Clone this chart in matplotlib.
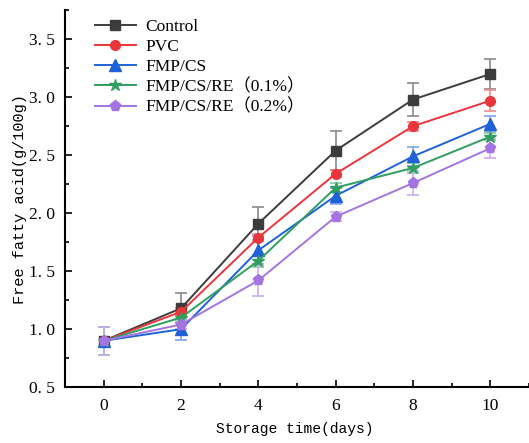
import numpy as np
import matplotlib.pyplot as plt
from matplotlib.ticker import MultipleLocator

# storage days
days = [0, 2, 4, 6, 8, 10]

labels = ['Control', 'PVC', 'FMP/CS', 'FMP/CS/RE\uff080.1%\uff09', 'FMP/CS/RE\uff080.2%\uff09']
control = [0.90, 1.18, 1.91, 2.54, 2.98, 3.20]
pvc = [0.90, 1.15, 1.79, 2.34, 2.75, 2.97]
fmp_cs = [0.90, 1.00, 1.68, 2.15, 2.49, 2.77]
re01 = [0.90, 1.10, 1.59, 2.22, 2.39, 2.66]
re02 = [0.90, 1.04, 1.42, 1.97, 2.26, 2.56]

err_control = [0.12, 0.13, 0.14, 0.17, 0.14, 0.13]
err_pvc = [0.12, 0.03, 0.03, 0.03, 0.04, 0.09]
err_fmp = [0.12, 0.09, 0.12, 0.07, 0.08, 0.07]
err_re01 = [0.12, 0.04, 0.05, 0.04, 0.04, 0.03]
err_re02 = [0.12, 0.04, 0.13, 0.04, 0.10, 0.08]

series = [control, pvc, fmp_cs, re01, re02]
errs = [err_control, err_pvc, err_fmp, err_re01, err_re02]
colors = ['#3c3c3c', '#e8363c', '#1f62d8', '#2f9e5e', '#a474e2']
ecolors = ['#8a8a8a', '#f08a8e', '#7fa6ea', '#86c9a2', '#c9acef']
markers = ['s', 'o', '^', '*', 'p']
msizes = [7, 7, 8, 9, 8]

fig = plt.figure(figsize=(5.29, 4.43), dpi=100)
ax = fig.add_axes([0.123, 0.126, 0.877, 0.851])

handles = []
for y, e, c, ec, m, ms, lab in zip(series, errs, colors, ecolors, markers, msizes, labels):
    eb = ax.errorbar(days, y, yerr=e, color=c, ecolor=ec, elinewidth=1.2, capsize=4,
                     capthick=1.2, marker=m, markersize=ms, lw=1.4, label=lab)
    handles.append(eb[0])

ax.set_xlim(-1, 11)
ax.set_ylim(0.5, 3.75)
ax.xaxis.set_major_locator(MultipleLocator(2))
ax.xaxis.set_minor_locator(MultipleLocator(1))
ax.yaxis.set_major_locator(MultipleLocator(0.5))
ax.yaxis.set_minor_locator(MultipleLocator(0.25))
ax.tick_params(which='both', direction='in', width=1.2)
ax.tick_params(which='major', length=5, labelsize=12.5, pad=8)
ax.tick_params(axis='y', which='major', pad=7)
ax.tick_params(which='minor', length=3)
ax.spines['top'].set_visible(False)
ax.spines['right'].set_visible(False)
ax.spines['left'].set_linewidth(1.5)
ax.spines['bottom'].set_linewidth(1.5)

ax.set_xticklabels([f'{t:g}' for t in ax.get_xticks()], family='Liberation Serif')
ax.set_yticklabels([f'{t:.1f}'.replace('.', '. ') for t in ax.get_yticks()], family='Liberation Serif')

ax.set_xlabel('Storage time(days)', family='Liberation Mono', fontsize=10.5)
ax.set_ylabel('Free fatty acid(g/100g)', family='Liberation Mono', fontsize=11)
ax.xaxis.set_label_coords(0.495, -0.093)
ax.yaxis.set_label_coords(-0.083, 0.5)

leg = ax.legend(handles, labels, loc='upper left', bbox_to_anchor=(0.045, 1.0), frameon=False,
                prop={'family': ['Liberation Serif', 'Noto Sans CJK SC'], 'size': 12.5},
                handlelength=2.4, handletextpad=0.5, labelspacing=0.22, borderaxespad=0.1)

fig.savefig('out.png', dpi=100)
